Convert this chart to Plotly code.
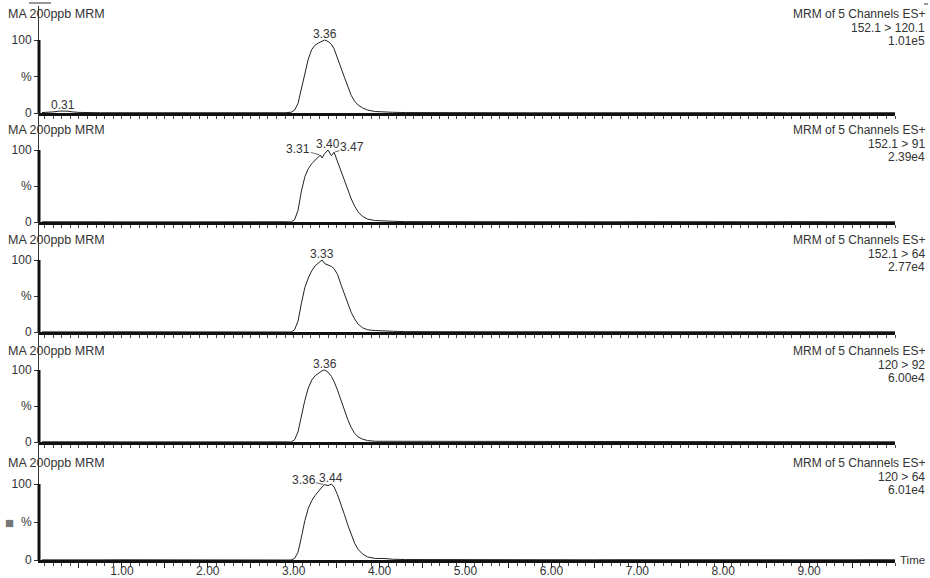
import plotly.graph_objects as go

# ---------------- data ----------------
pre_t = [0.07, 0.15, 0.21, 0.27, 0.31, 0.36, 0.42, 0.50, 0.75, 1.00, 1.25, 1.50,
         1.75, 2.00, 2.25, 2.50, 2.75, 2.90]
peak_t = [2.97, 3.01, 3.05, 3.09, 3.13, 3.17, 3.21, 3.25, 3.29, 3.31, 3.33, 3.36,
          3.40, 3.44, 3.47, 3.51, 3.55, 3.59, 3.63, 3.67, 3.71, 3.75, 3.80, 3.86,
          3.95, 4.05, 4.15]
post_t = [4.30, 4.50, 4.75, 5.00, 5.25, 5.50, 5.75, 6.00, 6.25, 6.50, 6.75, 7.00,
          7.25, 7.50, 7.75, 8.00, 8.25, 8.50, 8.75, 9.00, 9.25, 9.50, 9.75, 10.00]

pre_ch1 = [0.6, 0.9, 1.6, 2.6, 3.0, 2.6, 1.6, 0.8, 0.4, 0.3, 0.4, 0.3, 0.6, 0.3, 0.4, 0.5, 0.3, 0.4]
pre_ch2 = [0.3, 0.2, 0.3, 0.2, 0.3, 0.2, 0.3, 0.2, 0.3, 0.2, 0.3, 0.2, 0.5, 0.3, 0.2, 0.3, 0.2, 0.3]
pre_ch3 = [0.2, 0.3, 0.2, 0.3, 0.2, 0.3, 0.2, 0.3, 0.2, 0.3, 0.2, 0.3, 0.2, 0.3, 0.4, 0.3, 0.2, 0.3]
pre_ch4 = [0.3, 0.2, 0.3, 0.2, 0.3, 0.2, 0.3, 0.2, 0.3, 0.2, 0.3, 0.2, 0.3, 0.5, 0.3, 0.2, 0.3, 0.2]
pre_ch5 = [0.2, 0.3, 0.2, 0.3, 0.2, 0.3, 0.2, 0.3, 0.2, 0.3, 0.2, 0.3, 0.5, 0.3, 0.2, 0.5, 0.3, 0.2]

peak_ch1 = [1, 4, 13, 33, 56, 74, 87, 93, 96, 97, 98, 100, 98, 94, 88, 76, 62, 49,
            36, 24, 16, 11, 7, 4, 2, 2, 1]
peak_ch2 = [0, 3, 16, 43, 63, 74, 81, 86, 90, 93, 89, 95, 100, 92, 97, 84, 72, 59,
            45, 32, 22, 14, 8, 4, 2, 1, 1]
peak_ch3 = [0, 3, 15, 40, 62, 75, 85, 92, 96, 98, 100, 95, 93, 91, 88, 80, 66, 52,
            39, 27, 18, 11, 6, 3, 2, 1, 1]
peak_ch4 = [0, 3, 14, 36, 58, 75, 86, 92, 96, 98, 99, 100, 97, 91, 84, 72, 58, 44,
            31, 20, 12, 7, 4, 2, 1, 1, 1]
peak_ch5 = [0, 2, 10, 30, 52, 68, 78, 85, 91, 94, 96, 99, 98, 100, 96, 86, 74, 60,
            46, 33, 22, 14, 8, 4, 2, 2, 1]

post_ch1 = [0.6, 0.4, 0.3, 0.5, 0.3, 0.4, 0.3, 0.4, 0.3, 0.5, 0.3, 0.4, 0.3, 0.4, 0.3,
            0.4, 0.3, 0.5, 0.3, 0.4, 0.3, 0.4, 0.3, 0.4]
post_ch2 = [0.5, 0.4, 0.6, 0.3, 0.4, 0.5, 0.3, 0.6, 0.3, 0.4, 0.3, 0.5, 0.3, 0.4, 0.6,
            0.3, 0.4, 0.3, 0.5, 0.3, 0.4, 0.3, 0.4, 0.3]
post_ch3 = [0.5, 0.3, 0.4, 0.3, 0.4, 0.3, 0.4, 0.3, 0.4, 0.3, 0.4, 0.3, 0.4, 0.3, 0.4,
            0.3, 0.4, 0.3, 0.4, 0.3, 0.4, 0.3, 0.4, 0.3]
post_ch4 = [0.4, 0.3, 0.4, 0.3, 0.4, 0.3, 0.4, 0.3, 0.4, 0.3, 0.4, 0.3, 0.4, 0.3, 0.4,
            0.3, 0.4, 0.3, 0.4, 0.3, 0.4, 0.3, 0.4, 0.3]
post_ch5 = [0.6, 0.5, 0.4, 0.3, 0.5, 0.3, 0.4, 0.3, 0.4, 0.3, 0.4, 0.3, 0.4, 0.3, 0.4,
            0.3, 0.4, 0.3, 0.4, 0.3, 0.4, 0.3, 0.4, 0.3]

panel_title = "MA 200ppb MRM"
channel_header = "MRM of 5 Channels ES+"
transitions = ["152.1 > 120.1", "152.1 > 91", "152.1 > 64", "120 > 92", "120 > 64"]
max_counts = ["1.01e5", "2.39e4", "2.77e4", "6.00e4", "6.01e4"]

peak_labels = [
    [0.31, 3.36],
    [3.31, 3.40, 3.47],
    [3.33],
    [3.36],
    [3.36, 3.44],
]

x_tick_labels = ["1.00", "2.00", "3.00", "4.00", "5.00", "6.00", "7.00", "8.00", "9.00"]
x_tick_values = [1, 2, 3, 4, 5, 6, 7, 8, 9]
y_tick_values = [0, 50, 100]
y_tick_labels = ["0", "%", "100"]

# ---------------- layout constants ----------------
W, H = 930, 578
ML, MR, MT, MB = 39, 35, 0, 18
PW, PH = W - ML - MR, H - MT - MB
baselines = [113, 222, 332, 442, 560]
tops = [6, 113, 222, 332, 442]
px_per_100 = [73, 72, 72, 72, 76]
title_px = [14, 130, 240, 351, 463]
label_off = {  # (ax, ay) pixel offsets for peak labels with leader lines
    (1, 3.31): (-22, -6), (1, 3.47): (18, -5), (4, 3.36): (-21, -5),
}

FONT = "Liberation Sans, Arial, sans-serif"
TXT = "#333333"
LINE = "#222222"

pre = [pre_ch1, pre_ch2, pre_ch3, pre_ch4, pre_ch5]
peak = [peak_ch1, peak_ch2, peak_ch3, peak_ch4, peak_ch5]
post = [post_ch1, post_ch2, post_ch3, post_ch4, post_ch5]
times = pre_t + peak_t + post_t


def px_to_paper_x(px):
    return (px - ML) / PW


def px_to_paper_y(py):
    return 1 - (py - MT) / PH


fig = go.Figure()
annotations = []
shapes = []
xr = [0.035, 10.0]
half_ticks = [v / 2 for v in range(1, 20)]

for i in range(5):
    n = i + 1
    xa = "x" if n == 1 else f"x{n}"
    ya = "y" if n == 1 else f"y{n}"
    vals = pre[i] + peak[i] + post[i]
    fig.add_trace(go.Scatter(x=times, y=vals, mode="lines", xaxis=xa, yaxis=ya,
                             line=dict(color=LINE, width=1), showlegend=False,
                             hoverinfo="skip"))
    top_val = (baselines[i] - tops[i]) / px_per_100[i] * 100
    dom = [px_to_paper_y(baselines[i]), px_to_paper_y(tops[i])]
    bottom = (i == 4)
    ticktext = []
    for v in half_ticks:
        if bottom and v in x_tick_values:
            ticktext.append(x_tick_labels[x_tick_values.index(v)])
        else:
            ticktext.append("")
    xkey = "xaxis" if n == 1 else f"xaxis{n}"
    ykey = "yaxis" if n == 1 else f"yaxis{n}"
    fig.update_layout(**{
        xkey: dict(domain=[0, 1], anchor=ya, range=xr, showgrid=False, zeroline=False,
                   showline=True, linewidth=2.5, linecolor="#111111",
                   ticks="outside", ticklen=5, tickwidth=1, tickcolor="#222222",
                   tickvals=half_ticks, ticktext=ticktext,
                   showticklabels=bottom, automargin=False,
                   ticklabelstandoff=-7,
                   tickfont=dict(family=FONT, size=12, color=TXT),
                   minor=dict(dtick=0.1, tick0=0, ticks="outside", ticklen=3,
                              tickcolor="#444444", tickwidth=1, showgrid=False),
                   fixedrange=True),
        ykey: dict(domain=dom, anchor=xa, range=[0, top_val], showgrid=False,
                   zeroline=False, showline=True, linewidth=1, linecolor="#333333",
                   ticks="outside", ticklen=4, tickcolor="#333333", automargin=False,
                   tickvals=y_tick_values, ticktext=y_tick_labels,
                   tickfont=dict(family=FONT, size=12, color=TXT), fixedrange=True),
    })
    # bold part of y axis (0-100)
    shapes.append(dict(type="line", xref="paper", yref=ya, x0=0, x1=0, y0=0, y1=100,
                       line=dict(color="#111111", width=3)))
    # panel header texts
    ty = title_px[i]
    annotations.append(dict(text=panel_title, xref="paper", yref="paper",
                            x=px_to_paper_x(6), y=px_to_paper_y(ty), xanchor="left",
                            yanchor="middle", showarrow=False,
                            font=dict(family=FONT, size=12.5, color=TXT)))
    for j, line_txt in enumerate([channel_header, transitions[i], max_counts[i]]):
        annotations.append(dict(text=line_txt, xref="paper", yref="paper",
                                x=px_to_paper_x(926), y=px_to_paper_y(ty + 13.5 * j),
                                xanchor="right", yanchor="middle", showarrow=False,
                                borderpad=0,
                                font=dict(family=FONT, size=12, color=TXT)))
    # peak labels
    for t in peak_labels[i]:
        v = vals[times.index(t)]
        lbl = f"{t:.2f}"
        if (i, t) in label_off:
            ax, ay = label_off[(i, t)]
            annotations.append(dict(text=lbl, x=t, y=v, xref=xa, yref=ya,
                                    showarrow=True, arrowhead=0, arrowwidth=0.8,
                                    arrowcolor="#444444", ax=ax, ay=ay,
                                    standoff=1, borderpad=0,
                                    font=dict(family=FONT, size=12, color=TXT)))
        else:
            annotations.append(dict(text=lbl, x=t, y=v, xref=xa, yref=ya,
                                    showarrow=False, yanchor="bottom", yshift=-2,
                                    borderpad=0,
                                    font=dict(family=FONT, size=12, color=TXT)))

# "Time" axis title
annotations.append(dict(text="Time", xref="paper", yref="paper", x=1, y=0,
                        xanchor="left", yanchor="middle", xshift=3, showarrow=False,
                        font=dict(family=FONT, size=11.5, color=TXT)))
# small grey marker in last panel
annotations.append(dict(text="■", xref="paper", yref="paper", x=px_to_paper_x(9),
                        y=px_to_paper_y(522), xanchor="center", yanchor="middle",
                        showarrow=False, font=dict(family=FONT, size=15, color="#777777")))
# small top decorations
shapes.append(dict(type="line", xref="paper", yref="paper",
                   x0=px_to_paper_x(29), x1=px_to_paper_x(51),
                   y0=px_to_paper_y(3), y1=px_to_paper_y(3),
                   line=dict(color="#333333", width=1)))
shapes.append(dict(type="line", xref="paper", yref="paper",
                   x0=px_to_paper_x(924), x1=px_to_paper_x(928),
                   y0=px_to_paper_y(4), y1=px_to_paper_y(4),
                   line=dict(color="#333333", width=1)))

fig.update_layout(width=W, height=H, margin=dict(l=ML, r=MR, t=MT, b=MB),
                  paper_bgcolor="white", plot_bgcolor="white",
                  annotations=annotations, shapes=shapes, showlegend=False)

fig.write_html("out.html")
